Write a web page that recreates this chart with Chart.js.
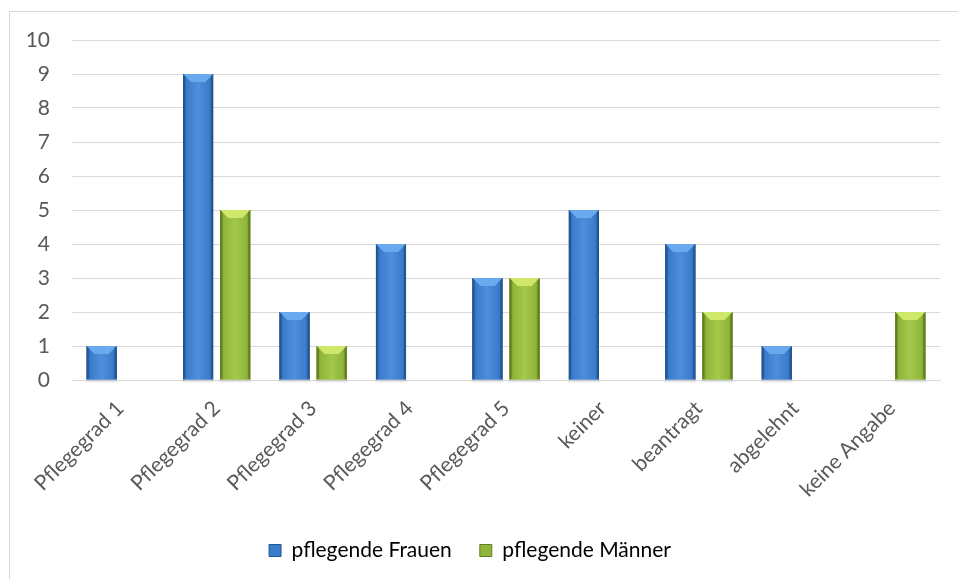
<!DOCTYPE html>
<html>
<head>
<meta charset="utf-8">
<script src="https://cdn.jsdelivr.net/npm/chart.js@4"></script>
<style>
    html, body { margin: 0; padding: 0; background: #ffffff; }
    #wrap { width: 958px; height: 579px; position: relative; }
</style>
</head>
<body>
<div id="wrap"><canvas id="chart"></canvas></div>
<script>
const categories = ["Pflegegrad 1", "Pflegegrad 2", "Pflegegrad 3", "Pflegegrad 4", "Pflegegrad 5", "keiner", "beantragt", "abgelehnt", "keine Angabe"];
const frauen = [1, 9, 2, 4, 3, 5, 4, 1, null];
const maenner = [null, 5, 1, null, 3, null, 2, null, 2];
const yTicks = [0, 1, 2, 3, 4, 5, 6, 7, 8, 9, 10];

const textColor = "#595959";
const fontFamily = "Lato, 'Open Sans', sans-serif";
const fontSize = 21;

const palette = {
    blue: { mid: "#3b7bcc", light: "#4f8edb", dark: "#24568f", top: "#6aa9ee" },
    green: { mid: "#8fb53a", light: "#a3c84a", dark: "#647f22", top: "#cfe86a" }
};

// border of the chart frame
const framePlugin = {
    id: "frame",
    beforeDraw(chart) {
        const ctx = chart.ctx;
        ctx.save();
        ctx.strokeStyle = "#d9d9d9";
        ctx.lineWidth = 1;
        ctx.strokeRect(9.5, 11.5, chart.width + 20, chart.height + 20);
        ctx.restore();
    }
};

// bevel look on each bar
const bevelPlugin = {
    id: "bevel",
    afterDatasetsDraw(chart) {
        const ctx = chart.ctx;
        chart.data.datasets.forEach((ds, i) => {
            const meta = chart.getDatasetMeta(i);
            const c = ds.bevel;
            meta.data.forEach((bar, j) => {
                if (ds.data[j] == null) return;
                const left = bar.x - bar.width / 2;
                const right = bar.x + bar.width / 2;
                const top = bar.y;
                const bottom = bar.base;
                const b = Math.min(8, (bottom - top) / 2);
                ctx.save();
                // soft shadow under the bar
                ctx.fillStyle = "rgba(0,0,0,0.08)";
                ctx.fillRect(left - 1, bottom, right - left + 2, 3);
                // body gradient
                const g = ctx.createLinearGradient(left, 0, right, 0);
                g.addColorStop(0, c.dark);
                g.addColorStop(0.12, c.mid);
                g.addColorStop(0.5, c.light);
                g.addColorStop(0.88, c.mid);
                g.addColorStop(1, c.dark);
                ctx.fillStyle = g;
                ctx.fillRect(left, top, right - left, bottom - top);
                // top bevel
                ctx.fillStyle = c.top;
                ctx.beginPath();
                ctx.moveTo(left, top);
                ctx.lineTo(right, top);
                ctx.lineTo(right - b, top + b);
                ctx.lineTo(left + b, top + b);
                ctx.closePath();
                ctx.fill();
                // side edges
                ctx.fillStyle = c.dark;
                ctx.beginPath();
                ctx.moveTo(right, top);
                ctx.lineTo(right, bottom);
                ctx.lineTo(right - 2, bottom - 2);
                ctx.lineTo(right - 2, top + 2);
                ctx.closePath();
                ctx.fill();
                ctx.beginPath();
                ctx.moveTo(left, top);
                ctx.lineTo(left, bottom);
                ctx.lineTo(left + 2, bottom - 2);
                ctx.lineTo(left + 2, top + 2);
                ctx.closePath();
                ctx.fill();
                ctx.restore();
            });
        });
    }
};

const ctx = document.getElementById("chart").getContext("2d");
new Chart(ctx, {
    type: "bar",
    data: {
        labels: categories,
        datasets: [
            {
                label: "pflegende Frauen",
                data: frauen,
                backgroundColor: palette.blue.mid,
                bevel: palette.blue,
                barPercentage: 0.81,
                categoryPercentage: 0.77,
            },
            {
                label: "pflegende Männer",
                data: maenner,
                backgroundColor: palette.green.mid,
                bevel: palette.green,
                barPercentage: 0.81,
                categoryPercentage: 0.77,
            },
        ],
    },
    options: {
        responsive: true,
        maintainAspectRatio: false,
        animation: false,
        layout: { padding: { left: 0, right: 18, top: 40, bottom: 8 } },
        plugins: {
            tooltip: { enabled: false },
            legend: {
                position: "bottom",
                labels: {
                    color: textColor,
                    font: { family: fontFamily, size: fontSize },
                    boxWidth: 12,
                    boxHeight: 12,
                    padding: 28,
                    generateLabels(chart) {
                        return chart.data.datasets.map((ds, i) => ({
                            text: ds.label,
                            fillStyle: ds.bevel.mid,
                            strokeStyle: ds.bevel.dark,
                            lineWidth: 1,
                            datasetIndex: i,
                        }));
                    },
                },
            },
        },
        scales: {
            x: {
                grid: { display: false },
                border: { display: true, color: "#d9d9d9", width: 1 },
                ticks: {
                    color: textColor,
                    font: { family: fontFamily, size: fontSize },
                    maxRotation: 45,
                    minRotation: 45,
                    padding: 8,
                },
                afterFit(scale) { scale.height = 132; },
            },
            y: {
                min: 0,
                max: 10,
                afterBuildTicks(scale) { scale.ticks = yTicks.map(v => ({ value: v })); },
                grid: { color: "#d9d9d9", lineWidth: 1, drawTicks: false },
                border: { display: false },
                ticks: {
                    color: textColor,
                    font: { family: fontFamily, size: fontSize },
                    padding: 22,
                },
                afterFit(scale) { scale.width = 72; },
            },
        },
    },
    plugins: [framePlugin, bevelPlugin],
});
</script>
</body>
</html>
